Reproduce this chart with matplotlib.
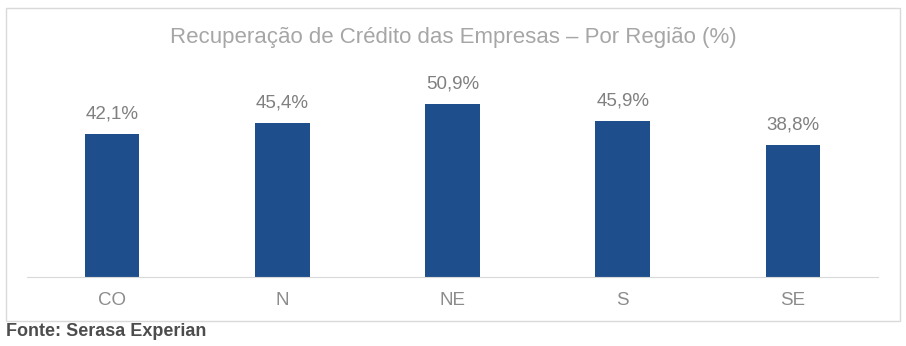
import matplotlib.pyplot as plt
from matplotlib.patches import Rectangle

plt.rcParams['font.family'] = ['Liberation Sans', 'DejaVu Sans']

regioes = ['CO', 'N', 'NE', 'S', 'SE']
valores = [42.1, 45.4, 50.9, 45.9, 38.8]
rotulos = ['42,1%', '45,4%', '50,9%', '45,9%', '38,8%']

W, H = 906, 346
fig = plt.figure(figsize=(W / 100, H / 100), dpi=100)

# moldura cinza clara em volta do grafico
fig.patches.append(Rectangle((6 / W, 1 - 321 / H), 894 / W, 313 / H,
                             transform=fig.transFigure, fill=False,
                             edgecolor='#D9D9D9', linewidth=1))

ax = fig.add_axes([27 / W, 1 - 277 / H, 851 / W, 204 / H])
x = range(len(regioes))
bars = ax.bar(x, valores, width=0.32, color='#1F4E8C')
ax.set_xlim(-0.5, 4.5)
ax.set_ylim(0, 60)

for b, r in zip(bars, rotulos):
    ax.annotate(r, (b.get_x() + b.get_width() / 2, b.get_height()),
                xytext=(0, 8), textcoords='offset points',
                ha='center', va='bottom', fontsize=13.5, color='#808080')

ax.set_xticks(list(x))
ax.set_xticklabels(regioes, fontsize=13.5, color='#8C8C8C')
ax.tick_params(axis='x', length=0, pad=11)
ax.set_yticks([])
for s in ['top', 'right', 'left']:
    ax.spines[s].set_visible(False)
ax.spines['bottom'].set_color('#D9D9D9')

fig.text(453 / W, 1 - 37 / H, 'Recuperação de Crédito das Empresas – Por Região (%)',
         ha='center', va='center', fontsize=16, color='#A6A6A6')
fig.text(6 / W, 1 - 331 / H, 'Fonte: Serasa Experian', ha='left', va='center',
         fontsize=13, fontweight='bold', color='#4D4D4D')

fig.savefig('out.png', dpi=100)
